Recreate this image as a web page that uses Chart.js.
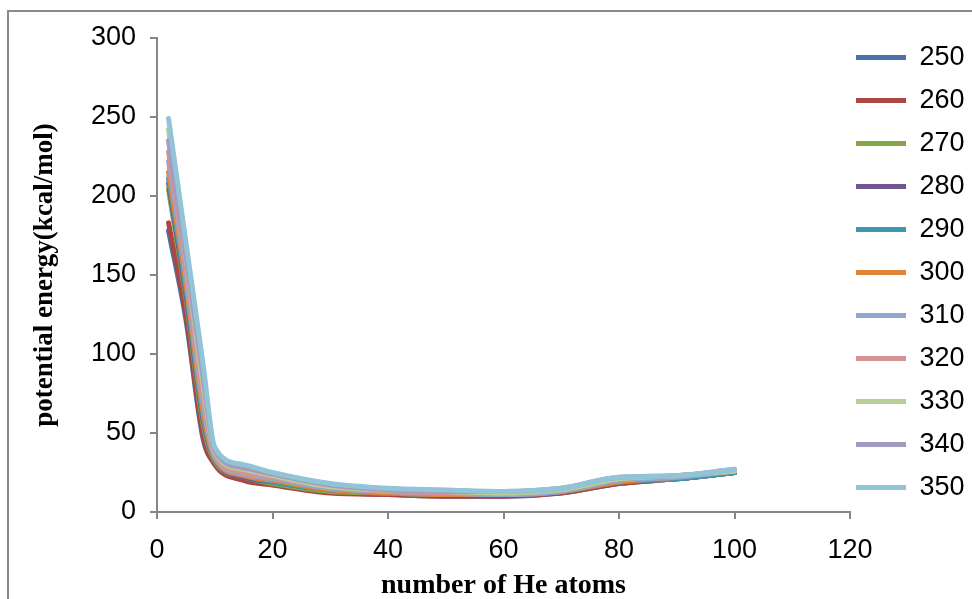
<!DOCTYPE html>
<html>
<head>
<meta charset="utf-8">
<title>potential energy vs number of He atoms</title>
<script src="https://cdn.jsdelivr.net/npm/chart.js@4.4.1/dist/chart.umd.min.js"></script>
<style>
    body { margin: 0; background: #fff; overflow: hidden; }
    .frame {
        position: absolute; left: 7px; top: 10px;
        width: 1100px; height: 700px;
        border: 2px solid #8a8a8a;
    }
    #energyChart { position: absolute; left: 0; top: 0; }
</style>
</head>
<body>
<div class="frame"></div>
<canvas id="energyChart" width="972" height="599"></canvas>
<script>
        // number of He atoms (x values)
        const heAtoms = [2, 5, 8, 10, 15, 20, 30, 40, 50, 60, 70, 80, 90, 100];

        // potential energy (kcal/mol), one list per series
        const e250 = [178, 122, 46, 31, 21, 18, 13, 11, 10, 10, 12, 18, 21, 25];
        const e260 = [183, 125, 48, 30, 20, 17, 12, 11, 10, 10, 12, 18, 21, 25];
        const e270 = [204, 135, 55, 32, 22, 18, 13, 12, 11, 11, 13, 19, 21, 25];
        const e280 = [208, 138, 58, 33, 22, 19, 14, 12, 11, 11, 13, 19, 21, 25];
        const e290 = [211, 141, 60, 33, 23, 19, 14, 12, 11, 11, 13, 19, 21, 25];
        const e300 = [215, 145, 63, 34, 23, 20, 14, 12, 11, 11, 13, 19, 22, 26];
        const e310 = [222, 150, 68, 35, 24, 21, 15, 13, 12, 11, 13, 20, 22, 26];
        const e320 = [228, 155, 73, 36, 25, 22, 16, 13, 12, 12, 14, 21, 23, 26];
        const e330 = [242, 162, 80, 38, 27, 23, 16, 14, 13, 12, 14, 21, 23, 26];
        const e340 = [235, 163, 85, 39, 28, 24, 17, 14, 13, 13, 15, 22, 23, 27];
        const e350 = [249, 171, 93, 41, 30, 25, 18, 15, 14, 13, 15, 22, 23, 27];

        const seriesNames = ['250', '260', '270', '280', '290', '300', '310', '320', '330', '340', '350'];
        const seriesValues = [e250, e260, e270, e280, e290, e300, e310, e320, e330, e340, e350];
        const seriesColors = ['#4A72AA', '#AA4643', '#86A545', '#70578F', '#3E98B0', '#E0843A',
                              '#8EA8D0', '#D59393', '#B9CE96', '#A59AC0', '#92C4D8'];

        const xTicks = [0, 20, 40, 60, 80, 100, 120];
        const yTicks = [0, 50, 100, 150, 200, 250, 300];

        const axisGray = '#868686';
        const sansFont = '"Liberation Sans", Arial, sans-serif';
        const serifFont = '"Liberation Serif", "Times New Roman", serif';

        // move the legend column next to the plot like the original
        const legendPlacement = {
            id: 'legendPlacement',
            afterLayout(chart) {
                chart.legend.left = chart.chartArea.right - 10;
                chart.legend.top = chart.chartArea.top - 10;
            }
        };

        function createEnergyChart() {
            const ctx = document.getElementById('energyChart').getContext('2d');
            const datasets = seriesNames.map((name, i) => ({
                label: name,
                data: heAtoms.map((x, j) => ({ x: x, y: seriesValues[i][j] })),
                borderColor: seriesColors[i],
                backgroundColor: seriesColors[i],
                borderWidth: 5,
                borderCapStyle: 'round',
                borderJoinStyle: 'round',
                cubicInterpolationMode: 'monotone',
                pointRadius: 0,
                pointStyle: 'line',
                fill: false,
                order: seriesNames.length - 1 - i
            }));

            const energyChart = new Chart(ctx, {
                type: 'line',
                data: { datasets: datasets },
                plugins: [legendPlacement],
                options: {
                    responsive: false,
                    animation: false,
                    layout: { padding: { top: 38, left: 0, right: 0, bottom: 0 } },
                    scales: {
                        x: {
                            type: 'linear',
                            min: 0,
                            max: 120,
                            afterBuildTicks: function (scale) {
                                scale.ticks = xTicks.map(v => ({ value: v }));
                            },
                            afterFit: function (scale) { scale.height = 87; },
                            grid: { drawOnChartArea: false, drawTicks: true, tickLength: 7, color: axisGray, lineWidth: 2 },
                            border: { color: axisGray, width: 2 },
                            ticks: {
                                color: '#000',
                                padding: 15,
                                maxRotation: 0,
                                font: { family: sansFont, size: 27 }
                            },
                            title: {
                                display: true,
                                text: 'number of He atoms',
                                color: '#000',
                                padding: { top: 0, bottom: -4 },
                                font: { family: serifFont, size: 28, weight: 'bold' }
                            }
                        },
                        y: {
                            min: 0,
                            max: 300,
                            afterBuildTicks: function (scale) {
                                scale.ticks = yTicks.map(v => ({ value: v }));
                            },
                            afterFit: function (scale) { scale.width = 157; },
                            grid: { drawOnChartArea: false, drawTicks: true, tickLength: 7, color: axisGray, lineWidth: 2 },
                            border: { color: axisGray, width: 2 },
                            ticks: {
                                color: '#000',
                                padding: 14,
                                font: { family: sansFont, size: 27 }
                            },
                            title: {
                                display: true,
                                text: 'potential energy(kcal/mol)',
                                color: '#000',
                                padding: { top: 29, bottom: 0 },
                                font: { family: serifFont, size: 27, weight: 'bold' }
                            }
                        }
                    },
                    plugins: {
                        legend: {
                            position: 'right',
                            align: 'start',
                            maxWidth: 122,
                            labels: {
                                usePointStyle: true,
                                pointStyle: 'line',
                                pointStyleWidth: 50,
                                padding: 16,
                                color: '#000',
                                font: { family: sansFont, size: 27 },
                                sort: (a, b) => a.datasetIndex - b.datasetIndex
                            }
                        },
                        tooltip: { enabled: false }
                    }
                }
            });
        }

        document.addEventListener('DOMContentLoaded', function () {
            createEnergyChart();
        });
</script>
</body>
</html>
